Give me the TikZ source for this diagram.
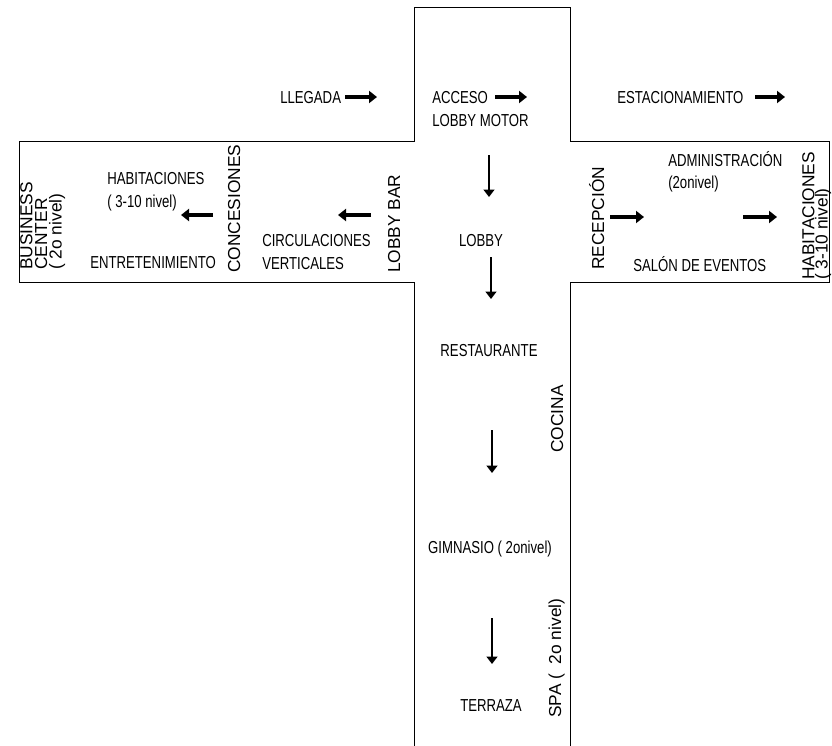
\documentclass[tikz,border=0pt]{standalone}
\usepackage{fontspec}
\setmainfont{Liberation Sans}
\newfontfamily\narrowfont[FakeStretch=0.76]{Liberation Sans}
\usetikzlibrary{arrows.meta}

\begin{document}
\begin{tikzpicture}[x=0.75pt, y=-0.75pt,
        zone/.style={draw=black, line width=0.75pt},
        place/.style={font=\narrowfont\fontsize{13}{17}\selectfont, inner sep=0pt, align=left},
        wall/.style={rotate=90, font=\fontsize{13}{11}\selectfont, inner sep=0pt, align=left},
        flow/.style={-{Triangle[length=6pt, width=9pt]}, line width=2.4pt},
        drop/.style={-{Triangle[length=5.5pt, width=8pt]}, line width=1.4pt}
    ]
        \useasboundingbox (0,0) rectangle (832,746);

        % planta en cruz
        \draw[zone] (414,746) -- (414,282) -- (19,282) -- (19,141) -- (414,141) -- (414,7)
            -- (570,7) -- (570,141) -- (829,141) -- (829,282) -- (570,282) -- (570,746);

        % brazo superior
        \node[place, anchor=base west] (llegada) at (280,103) {LLEGADA};
        \node[place, anchor=north west] (acceso) at (432,91) {ACCESO\\LOBBY MOTOR};
        \node[place, anchor=base west] (estacionamiento) at (617,103) {ESTACIONAMIENTO};

        % eje central
        \node[place, anchor=base] (lobby) at (481,246) {LOBBY};
        \node[place, anchor=base] (restaurante) at (489,356) {RESTAURANTE};
        \node[place, anchor=base] (gimnasio) at (490,553) {GIMNASIO ( 2onivel)};
        \node[place, anchor=base] (terraza) at (491,711) {TERRAZA};
        \node[wall, anchor=base west] (cocina) at (563,453) {COCINA};
        \node[wall, anchor=base west] (spa) at (561,718) {SPA\ (\ \ 2o nivel)};

        % brazo izquierdo
        \node[wall, anchor=north west] (business) at (20,270) {BUSINESS\\CENTER\\( 2o nivel)};
        \node[place, anchor=north west] (habitacionesO) at (107,172) {HABITACIONES\\( 3-10 nivel)};
        \node[place, anchor=base west] (entretenimiento) at (90,268) {ENTRETENIMIENTO};
        \node[wall, anchor=base west] (concesiones) at (240,273) {CONCESIONES};
        \node[place, anchor=north west] (circulaciones) at (262,234) {CIRCULACIONES\\VERTICALES};
        \node[wall, anchor=base west] (lobbybar) at (400,273) {LOBBY BAR};

        % brazo derecho
        \node[wall, anchor=base west] (recepcion) at (604,270) {RECEPCIÓN};
        \node[place, anchor=north west] (administracion) at (668,151) {ADMINISTRACIÓN\\(2onivel)};
        \node[place, anchor=base west] (salon) at (633,271) {SALÓN DE EVENTOS};
        \node[wall, anchor=north west, font=\fontsize{13}{10}\selectfont] (habitacionesE) at (802,280) {HABITACIONES\\( 3-10 nivel)};

        % flechas de recorrido
        \coordinate (llegadaA) at (345,97);   \coordinate (llegadaB) at (377,97);
        \coordinate (accesoA) at (495,97);    \coordinate (accesoB) at (527,97);
        \coordinate (estacA) at (755,97);     \coordinate (estacB) at (785,97);
        \coordinate (habitA) at (213,215);    \coordinate (habitB) at (181,215);
        \coordinate (circA) at (371,215);     \coordinate (circB) at (338,215);
        \coordinate (recepA) at (610,217);    \coordinate (recepB) at (644,217);
        \coordinate (adminA) at (743,217);    \coordinate (adminB) at (777,217);
        \coordinate (motorA) at (489,155);    \coordinate (motorB) at (489,197);
        \coordinate (lobbyA) at (491,257);    \coordinate (lobbyB) at (491,299);
        \coordinate (restA) at (492,430);     \coordinate (restB) at (492,473);
        \coordinate (gimA) at (492,618);      \coordinate (gimB) at (492,664);

        \draw[flow] (llegadaA) -- (llegadaB);
        \draw[flow] (accesoA) -- (accesoB);
        \draw[flow] (estacA) -- (estacB);
        \draw[flow] (habitA) -- (habitB);
        \draw[flow] (circA) -- (circB);
        \draw[flow] (recepA) -- (recepB);
        \draw[flow] (adminA) -- (adminB);
        \draw[drop] (motorA) -- (motorB);
        \draw[drop] (lobbyA) -- (lobbyB);
        \draw[drop] (restA) -- (restB);
        \draw[drop] (gimA) -- (gimB);
    \end{tikzpicture}
\end{document}
